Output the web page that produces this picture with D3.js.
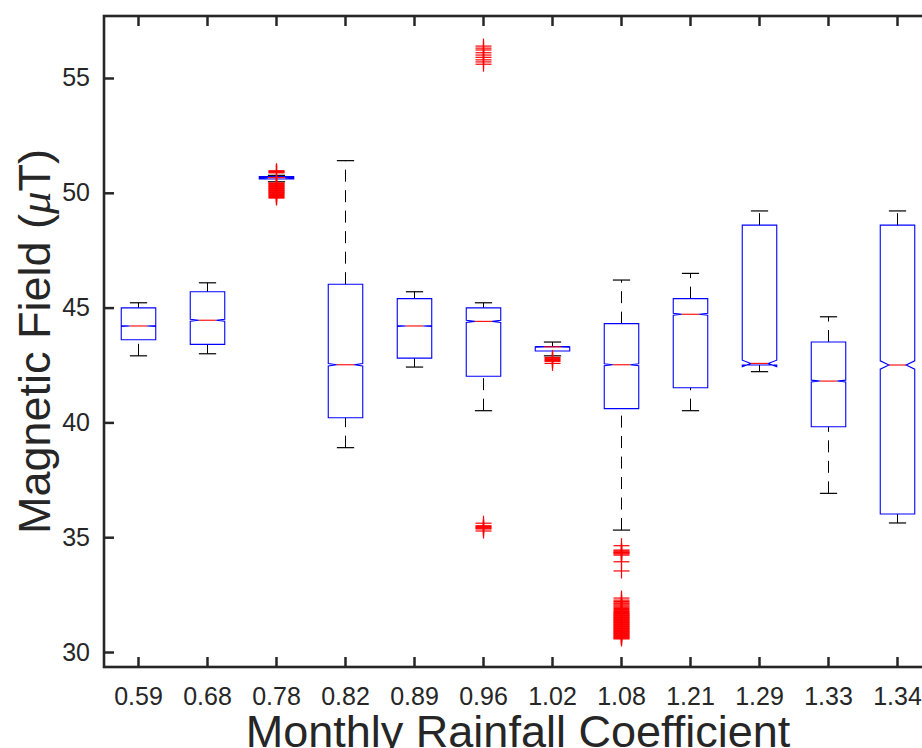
<!DOCTYPE html>
<html>
<head>
<meta charset="utf-8">
<script src="https://cdn.jsdelivr.net/npm/d3@7"></script>
<style>
  body { margin: 0; background: #fff; }
  svg { display: block; }
</style>
</head>
<body>
<svg id="chart" width="922" height="748"></svg>
<script>
// values (uT)
const categories = ['0.59', '0.68', '0.78', '0.82', '0.89', '0.96', '1.02', '1.08', '1.21', '1.29', '1.33', '1.34']
const whiskerLow  = [42.90, 42.99, 50.48, 38.90, 42.41, 40.51, 42.90, 35.31, 40.51, 42.21, 36.91, 35.62]
const q1          = [43.60, 43.40, 50.60, 40.20, 42.80, 42.01, 43.11, 40.60, 41.51, 42.50, 39.81, 36.01]
const medians     = [44.20, 44.45, 50.66, 42.51, 44.20, 44.40, 43.29, 42.51, 44.71, 42.57, 41.80, 42.50]
const q3          = [44.99, 45.69, 50.71, 46.02, 45.39, 44.99, 43.30, 44.30, 45.39, 48.59, 43.50, 48.59]
const whiskerHigh = [45.21, 46.08, 50.76, 51.40, 45.69, 45.21, 43.50, 46.20, 46.49, 49.21, 44.60, 49.21]
// half height of the notch around the median
const notchHalf   = [0.02, 0.04, 0.02, 0.05, 0.02, 0.05, 0.01, 0.04, 0.04, 0.14, 0.04, 0.18]

const outliers = [
  [],
  [],
  [50.96, 50.93, 50.90, 50.87, 50.43, 50.40, 50.37, 50.34, 50.31, 50.28, 50.25, 50.22, 50.19,
   50.16, 50.13, 50.10, 50.07, 50.04, 50.01, 49.98, 49.95, 49.92, 49.88, 49.84, 49.80, 49.77],
  [],
  [],
  [56.39, 56.30, 56.22, 56.10, 56.00, 55.90, 55.79, 55.70, 55.60,
   35.61, 35.50, 35.46, 35.43, 35.39, 35.36, 35.27],
  [42.83, 42.79, 42.74, 42.70, 42.66, 42.57],
  [34.63, 34.44, 34.40, 34.36, 34.33, 34.31, 34.27, 34.22, 33.93, 33.53,
   32.35, 32.26, 32.20, 32.14, 32.10, 32.05, 32.00, 31.95, 31.90, 31.85, 31.80, 31.76, 31.72,
   31.68, 31.65, 31.62, 31.59, 31.56, 31.53, 31.50, 31.47, 31.44, 31.41, 31.38, 31.35, 31.32,
   31.29, 31.26, 31.23, 31.20, 31.17, 31.14, 31.11, 31.08, 31.05, 31.02, 30.99, 30.96, 30.93,
   30.90, 30.87, 30.84, 30.81, 30.78, 30.75, 30.72, 30.69, 30.66, 30.63, 30.60, 30.57],
  [],
  [],
  [],
  []
]

const yTicks = [30, 35, 40, 45, 50, 55]
const yDomain = [29.347, 57.70]

const frame = {left: 104, top: 16, right: 932, bottom: 667}
const axisColor = '#262626'
const fontFamily = '"Liberation Sans", Arial, Helvetica, sans-serif'

const svg = d3.select('#chart')

const x = d3.scaleBand().domain(categories).range([frame.left, frame.right])
const y = d3.scaleLinear().domain(yDomain).range([frame.bottom, frame.top])
const cx = c => x(c) + x.bandwidth() / 2
const hw = x.bandwidth() / 4

function styleAxis (g) {
  g.select('.domain').remove()
  g.selectAll('.tick line').attr('stroke', axisColor).attr('stroke-width', 2.5)
  g.selectAll('.tick text')
    .attr('fill', axisColor)
    .attr('font-family', fontFamily)
    .attr('font-size', 25)
}

// axes, ticks pointing inwards on all four sides
svg.append('g')
  .attr('transform', `translate(${frame.left},0)`)
  .call(d3.axisLeft(y).tickValues(yTicks).tickSize(-10).tickPadding(14))
  .call(styleAxis)

svg.append('g')
  .attr('transform', `translate(${frame.right},0)`)
  .call(d3.axisRight(y).tickValues(yTicks).tickSize(-10).tickFormat(''))
  .call(styleAxis)

svg.append('g')
  .attr('transform', `translate(0,${frame.bottom})`)
  .call(d3.axisBottom(x).tickSize(-10).tickPadding(20))
  .call(styleAxis)

svg.append('g')
  .attr('transform', `translate(0,${frame.top})`)
  .call(d3.axisTop(x).tickSize(-10).tickFormat(''))
  .call(styleAxis)

svg.append('rect')
  .attr('x', frame.left)
  .attr('y', frame.top)
  .attr('width', frame.right - frame.left)
  .attr('height', frame.bottom - frame.top)
  .attr('fill', 'none')
  .attr('stroke', axisColor)
  .attr('stroke-width', 2.6)

const boxes = categories.map((c, i) => ({
  c, lo: whiskerLow[i], q1: q1[i], med: medians[i], q3: q3[i], hi: whiskerHigh[i],
  nlo: medians[i] - notchHalf[i], nhi: medians[i] + notchHalf[i], out: outliers[i]
}))

const plot = svg.append('g')

// whiskers: drawn from the low end upwards, like matlab does
plot.selectAll('.whisker-up').data(boxes).join('line')
  .attr('x1', d => cx(d.c)).attr('x2', d => cx(d.c))
  .attr('y1', d => y(d.q3)).attr('y2', d => y(d.hi))
  .attr('stroke', '#000').attr('stroke-width', 1).attr('stroke-dasharray', '12,8.5')

plot.selectAll('.whisker-down').data(boxes).join('line')
  .attr('x1', d => cx(d.c)).attr('x2', d => cx(d.c))
  .attr('y1', d => y(d.lo)).attr('y2', d => y(d.q1))
  .attr('stroke', '#000').attr('stroke-width', 1).attr('stroke-dasharray', '12,8.5')

// caps
for (const key of ['lo', 'hi']) {
  plot.selectAll('.cap-' + key).data(boxes).join('line')
    .attr('x1', d => cx(d.c) - hw / 2).attr('x2', d => cx(d.c) + hw / 2)
    .attr('y1', d => y(d[key])).attr('y2', d => y(d[key]))
    .attr('stroke', '#000').attr('stroke-width', 1.2)
}

// notched boxes
plot.selectAll('.box').data(boxes).join('path')
  .attr('d', d => {
    const m = cx(d.c)
    const pts = [
      [m - hw, y(d.q1)], [m - hw, y(d.nlo)], [m - hw / 2, y(d.med)], [m - hw, y(d.nhi)], [m - hw, y(d.q3)],
      [m + hw, y(d.q3)], [m + hw, y(d.nhi)], [m + hw / 2, y(d.med)], [m + hw, y(d.nlo)], [m + hw, y(d.q1)]
    ]
    return d3.line()(pts) + 'Z'
  })
  .attr('fill', 'none')
  .attr('stroke', '#0000ff')
  .attr('stroke-width', 1.1)

plot.selectAll('.median').data(boxes).join('line')
  .attr('x1', d => cx(d.c) - hw / 2).attr('x2', d => cx(d.c) + hw / 2)
  .attr('y1', d => y(d.med)).attr('y2', d => y(d.med))
  .attr('stroke', '#ff0000').attr('stroke-width', 1.1)

// outliers as '+' markers
const pts = boxes.flatMap(d => d.out.map(v => ({c: d.c, v})))
const mk = plot.selectAll('.outlier').data(pts).join('g')
  .attr('transform', d => `translate(${cx(d.c)},${y(d.v)})`)
mk.append('line').attr('x1', -8).attr('x2', 8).attr('y1', 0).attr('y2', 0)
  .attr('stroke', '#ff0000').attr('stroke-width', 1.2)
mk.append('line').attr('x1', 0).attr('x2', 0).attr('y1', -7.5).attr('y2', 7.5)
  .attr('stroke', '#ff0000').attr('stroke-width', 1.2)

// axis labels
svg.append('text')
  .attr('x', (frame.left + frame.right) / 2)
  .attr('y', 747)
  .attr('text-anchor', 'middle')
  .attr('font-family', fontFamily)
  .attr('font-size', 45)
  .attr('fill', axisColor)
  .text('Monthly Rainfall Coefficient')

const ylab = svg.append('text')
  .attr('transform', `translate(50,${(frame.top + frame.bottom) / 2}) rotate(-90)`)
  .attr('text-anchor', 'middle')
  .attr('font-family', fontFamily)
  .attr('font-size', 45)
  .attr('fill', axisColor)
ylab.append('tspan').text('Magnetic Field (')
ylab.append('tspan').attr('font-family', '"Liberation Serif", "DejaVu Serif", serif').attr('font-style', 'italic').text('μ')
ylab.append('tspan').text('T)')
</script>
</body>
</html>
